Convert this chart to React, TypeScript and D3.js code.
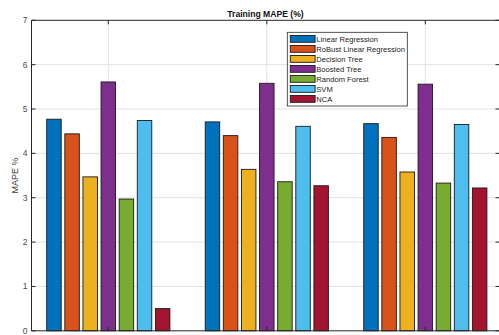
import React from "react";
import * as d3 from "d3";

const groups = [1, 2, 3];
const series = [
  "Linear Regression",
  "RoBust Linear Regression",
  "Decision Tree",
  "Boosted Tree",
  "Random Forest",
  "SVM",
  "NCA",
];
const colors = ["#0072BD", "#D95319", "#EDB120", "#7E2F8E", "#77AC30", "#4DBEEE", "#A2142F"];
// values[series][group]
const linearRegression = [4.77, 4.71, 4.67];
const robustLinear = [4.44, 4.40, 4.36];
const decisionTree = [3.47, 3.64, 3.58];
const boostedTree = [5.61, 5.58, 5.56];
const randomForest = [2.97, 3.36, 3.33];
const svm = [4.74, 4.61, 4.65];
const nca = [0.5, 3.27, 3.22];
const values = [linearRegression, robustLinear, decisionTree, boostedTree, randomForest, svm, nca];
const yTicks = [0, 1, 2, 3, 4, 5, 6, 7];

const W = 499;
const H = 335;
const plot = { left: 31.5, right: 499.5, top: 20.3, bottom: 330.8 };

export default function App() {
  const x = d3.scaleLinear().domain([0.5155, 3.468]).range([plot.left, plot.right]);
  const y = d3.scaleLinear().domain([0, 7]).range([plot.bottom, plot.top]);
  const inner = d3
    .scaleBand<string>()
    .domain(series)
    .range([-0.4, 0.4])
    .paddingInner(0.2)
    .paddingOuter(0.1);
  const bw = x(inner.bandwidth()) - x(0);
  const font = "'Liberation Sans', Arial, Helvetica, sans-serif";
  const legendX = 287.3;
  const legendY = 32.3;
  const rowH = 10;

  return (
    <div style={{ position: "fixed", left: 0, top: 0 }}>
      <svg width={W} height={H} style={{ display: "block", background: "#fff" }} fontFamily={font}>
        {/* grid */}
        {yTicks.slice(1, -1).map((t) => (
          <line key={"gy" + t} x1={plot.left} x2={plot.right} y1={y(t)} y2={y(t)} stroke="#e3e3e3" strokeWidth={1} />
        ))}
        {groups.map((g) => (
          <line key={"gx" + g} x1={x(g)} x2={x(g)} y1={plot.top} y2={plot.bottom} stroke="#e3e3e3" strokeWidth={1} />
        ))}
        {/* bars */}
        {series.map((s, si) =>
          groups.map((g, gi) => {
            const x0 = x(g + (inner(s) as number));
            const v = values[si][gi];
            return (
              <rect
                key={s + g}
                x={x0}
                y={y(v)}
                width={bw}
                height={y(0) - y(v)}
                fill={colors[si]}
                stroke="#1a1a1a"
                strokeWidth={0.9}
              />
            );
          })
        )}
        {/* axes box */}
        <line x1={plot.left} x2={plot.left} y1={plot.top} y2={plot.bottom} stroke="#262626" strokeWidth={1} />
        <line x1={plot.left} x2={plot.right} y1={plot.top} y2={plot.top} stroke="#262626" strokeWidth={1} />
        <line x1={plot.left} x2={plot.right} y1={plot.bottom} y2={plot.bottom} stroke="#262626" strokeWidth={1} />
        <line x1={plot.right} x2={plot.right} y1={plot.top} y2={plot.bottom} stroke="#262626" strokeWidth={1} />
        {yTicks.map((t) => (
          <g key={"ty" + t}>
            <line x1={plot.left} x2={plot.left + 4} y1={y(t)} y2={y(t)} stroke="#262626" />
            <line x1={plot.right - 4} x2={plot.right} y1={y(t)} y2={y(t)} stroke="#262626" />
            <text x={plot.left - 4} y={y(t)} dy="0.35em" textAnchor="end" fontSize={8.5} fill="#4a4a4a">
              {t}
            </text>
          </g>
        ))}
        {groups.map((g) => (
          <g key={"tx" + g}>
            <line x1={x(g)} x2={x(g)} y1={plot.top} y2={plot.top + 4} stroke="#262626" />
            <line x1={x(g)} x2={x(g)} y1={plot.bottom - 4} y2={plot.bottom} stroke="#262626" />
          </g>
        ))}
        {/* title */}
        <text x={(plot.left + plot.right) / 2} y={16.5} textAnchor="middle" fontSize={8.6} fontWeight="bold" fill="#111">
          Training MAPE (%)
        </text>
        {/* y label */}
        <text
          transform={`translate(18, ${(plot.top + plot.bottom) / 2}) rotate(-90)`}
          textAnchor="middle"
          fontSize={9}
          fill="#3a3a3a"
        >
          MAPE %
        </text>
        {/* legend */}
        <rect x={legendX} y={legendY} width={120} height={73.7} fill="#fff" stroke="#2a2a2a" strokeWidth={0.8} />
        {series.map((s, i) => (
          <g key={"lg" + s} transform={`translate(${legendX + 3}, ${legendY + 3.2 + i * rowH})`}>
            <rect x={0} y={0} width={24.8} height={6.8} fill={colors[i]} stroke="#1a1a1a" strokeWidth={0.9} />
            <text x={26} y={3.5} dy="0.35em" fontSize={7.6} fill="#222">
              {s}
            </text>
          </g>
        ))}
      </svg>
    </div>
  );
}
